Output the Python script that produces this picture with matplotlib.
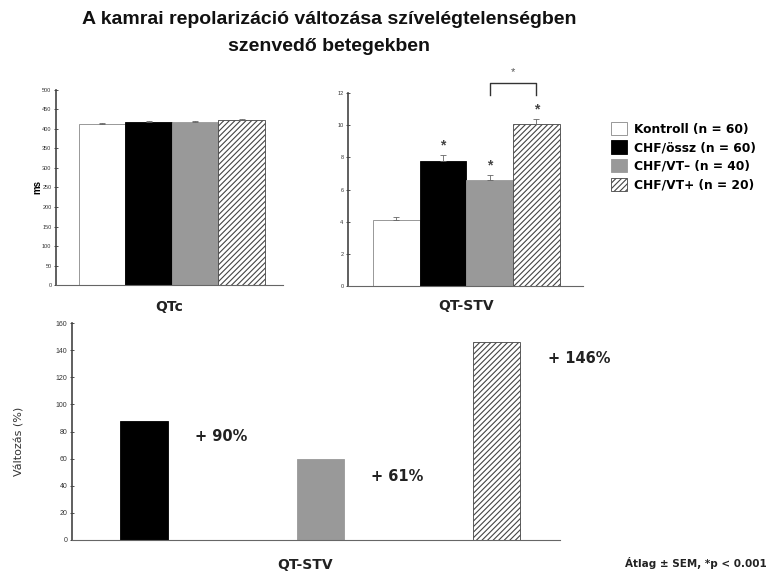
import numpy as np
import matplotlib.pyplot as plt

plt.rcParams['font.family'] = ['Liberation Sans', 'DejaVu Sans']

# Adatok
csoportok = ['Kontroll (n = 60)', 'CHF/össz (n = 60)', 'CHF/VT– (n = 40)', 'CHF/VT+ (n = 20)']
qtc = [413, 418, 418, 423]
qtc_sem = [3, 3, 3, 3]
stv = [4.1, 7.8, 6.6, 10.1]
stv_sem = [0.2, 0.35, 0.3, 0.3]
valtozas_csop = ['CHF/össz', 'CHF/VT–', 'CHF/VT+']
valtozas = [88, 60, 146]
valtozas_cimke = ['+ 90%', '+ 61%', '+ 146%']

szinek = ['white', 'black', '#999999', 'white']
hatch = [None, None, None, '//////']
szegely = ['#888888', 'black', '#999999', '#444444']

plt.rcParams['hatch.linewidth'] = 0.8
fig = plt.figure(figsize=(7.72, 5.76), dpi=100)

fig.text(0.426, 0.967, 'A kamrai repolarizáció változása szívelégtelenségben',
         ha='center', va='center', fontsize=14, fontweight='bold', color='#111111')
fig.text(0.426, 0.92, 'szenvedő betegekben',
         ha='center', va='center', fontsize=14, fontweight='bold', color='#111111')

cimke_font = {'family': 'DejaVu Sans', 'weight': 'bold', 'size': 10, 'color': '#222222'}


def oszlopok(ax, x, ertekek, szin, mintak, szelek, w):
    bars = []
    for i in range(len(ertekek)):
        b = ax.bar(x[i], ertekek[i], width=w, color=szin[i], edgecolor=szelek[i],
                   hatch=mintak[i], linewidth=0.6, zorder=2)
        bars.append(b[0])
    return bars


def tengely(ax, fs):
    for s in ['top', 'right']:
        ax.spines[s].set_visible(False)
    ax.spines['left'].set_color('#444444')
    ax.spines['bottom'].set_color('#666666')
    ax.spines['left'].set_linewidth(1.2)
    ax.tick_params(axis='y', labelsize=fs, length=2.5, width=0.6, direction='inout',
                   colors='#333333', pad=2)
    ax.set_xticks([])


x = np.arange(4)

# QTc
ax1 = fig.add_axes([0.0725, 0.505, 0.294, 0.339])
oszlopok(ax1, x, qtc, szinek, hatch, szegely, 1.0)
ax1.errorbar(x, qtc, yerr=[np.zeros(4), qtc_sem], fmt='none', ecolor='#666666',
             elinewidth=0.6, capsize=2, capthick=0.6, zorder=3)
ax1.set_ylim(0, 500)
ax1.set_yticks(np.arange(0, 501, 50))
ax1.set_xlim(-0.995, 3.887)
tengely(ax1, 4)
ax1.set_ylabel('ms', fontsize=7, fontweight='bold', labelpad=0)
ax1.set_xlabel('QTc', fontdict=cimke_font)
ax1.xaxis.set_label_coords(0.5, -0.075)

# QT-STV
ax2 = fig.add_axes([0.4508, 0.5035, 0.304, 0.335])
bars = oszlopok(ax2, x, stv, szinek, hatch, szegely, 1.0)
ax2.errorbar(x, stv, yerr=[np.zeros(4), stv_sem], fmt='none', ecolor='#666666',
             elinewidth=0.6, capsize=2, capthick=0.6, zorder=3)
ax2.set_ylim(0, 12)
ax2.set_yticks(np.arange(0, 13, 2))
ax2.set_xlim(-1.035, 3.99)
tengely(ax2, 4)
ax2.set_xlabel('QT-STV', fontdict=cimke_font)
ax2.xaxis.set_label_coords(0.505, -0.065)
for i in [1, 2, 3]:
    ax2.text(x[i], stv[i] + stv_sem[i] + 0.6, '*', ha='center', va='center',
             fontsize=10, fontweight='bold', color='#444444')
# szignifikancia zárójel
ax2.plot([2, 2, 3, 3], [11.9, 12.6, 12.6, 11.9], color='#333333', lw=1.0, clip_on=False)
ax2.text(2.5, 13.3, '*', ha='center', va='center', fontsize=8, color='#555555')

# jelmagyarázat
fig.legend(bars, csoportok, loc='upper left', bbox_to_anchor=(0.785, 0.797),
           frameon=False, prop={'family': 'DejaVu Sans', 'weight': 'bold', 'size': 8.8},
           handlelength=1.3, handleheight=1.3, handletextpad=0.6, labelspacing=0.4,
           borderaxespad=0)

# Változás (%)
ax3 = fig.add_axes([0.0933, 0.0625, 0.632, 0.3767])
xb = np.arange(3)
oszlopok(ax3, xb, valtozas, szinek[1:], hatch[1:], ['black', '#999999', '#444444'], 0.27)
ax3.set_ylim(0, 160)
ax3.set_yticks(np.arange(0, 161, 20))
ax3.set_xlim(-0.409, 2.36)
tengely(ax3, 5)
ax3.set_ylabel('Változás (%)', fontsize=8, family='DejaVu Sans', color='#333333')
ax3.yaxis.set_label_coords(-0.097, 0.455)
ax3.set_xlabel('QT-STV', fontdict=cimke_font)
ax3.xaxis.set_label_coords(0.477, -0.085)
cimke_y = [76, 46.5, 134]
for i in range(3):
    ax3.text(xb[i] + 0.29, cimke_y[i], valtozas_cimke[i], ha='left', va='center',
             fontsize=10.5, fontweight='bold', color='#222222', family='DejaVu Sans')

fig.text(0.993, 0.022, 'Átlag ± SEM, *p < 0.001', ha='right', va='center',
         fontsize=7.5, fontweight='bold', color='#222222', family='DejaVu Sans')

fig.savefig('out.png', dpi=100)
